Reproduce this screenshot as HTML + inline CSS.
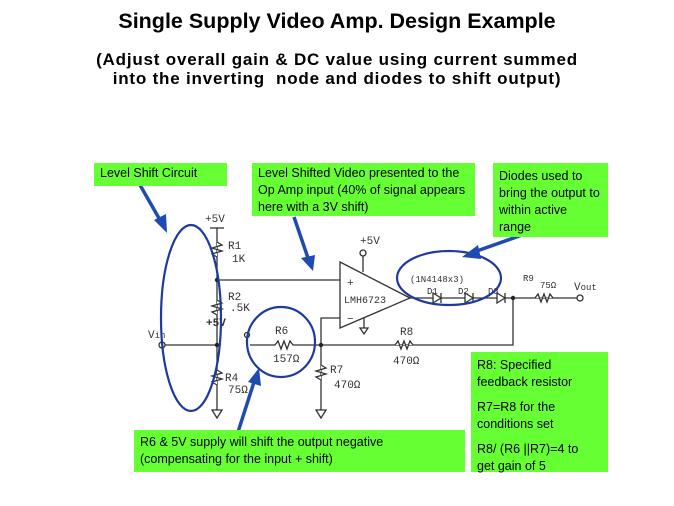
<!DOCTYPE html>
<html><head><style>
body{margin:0;background:#fff;width:674px;height:506px;overflow:hidden;font-family:"Liberation Sans",sans-serif}
.t{position:absolute;left:0;width:674px;text-align:center;font-weight:bold;color:#000}
.g{position:absolute;background:#66ff33;font-size:12.5px;line-height:17px;padding:2px 6px;box-sizing:border-box;color:#000}
</style></head><body>
<div class="t" style="top:9px;font-size:21.5px">Single Supply Video Amp. Design Example</div>
<div class="t" style="top:50px;font-size:17px;line-height:19px;letter-spacing:0.8px">(Adjust overall gain &amp; DC value using current summed<br>into the inverting &nbsp;node and diodes to shift output)</div>
<svg width="674" height="506" style="position:absolute;left:0;top:0" font-family="Liberation Sans, sans-serif">
<g stroke="#333" stroke-width="1.3" fill="none">
<line x1="217" y1="228" x2="217" y2="410"/>
<line x1="210" y1="228" x2="224" y2="228"/>
<polyline points="217,242 222,245 212,248 222,251 212,254 217,257" fill="#fff"/>
<polyline points="217,300 222,303 212,306 222,309 212,312 217,315" fill="#fff"/>
<polyline points="217,370 222,373 212,376 222,379 212,382 217,385" fill="#fff"/>
<polygon points="212,410 222,410 217,418"/>
<line x1="165" y1="345" x2="217" y2="345"/>
<circle cx="162" cy="345" r="3"/>
<line x1="217" y1="280" x2="340" y2="280"/>
<circle cx="247" cy="335" r="2.5"/>
<polyline points="250,345 275,345 278,341 281,349 284,341 287,349 290,341 293,345 513,345 513,298"/>
<polygon points="340,262 340,328 410,298"/>
<line x1="363" y1="256" x2="363" y2="272"/><circle cx="363" cy="253" r="3"/>
<line x1="364" y1="318" x2="364" y2="328"/><polygon points="360,328 368,328 364,334"/>
<polyline points="340,318 321,318 321,410"/>
<polyline points="321,365 326,368 316,371 326,374 316,377 321,380" fill="#fff"/>
<polygon points="316,410 326,410 321,418"/>
<polyline points="395,345 398,341 401,349 404,341 407,349 410,341 413,345" fill="#fff"/>
<line x1="410" y1="298" x2="577" y2="298"/>
<polyline points="535,298 538,294 541,302 544,294 547,302 550,294 553,298" fill="#fff"/>
<circle cx="580" cy="298" r="3" fill="#fff"/>
<polygon points="433,293 433,303 441,298" fill="#fff"/><line x1="441" y1="293" x2="441" y2="303"/>
<polygon points="465,293 465,303 473,298" fill="#fff"/><line x1="473" y1="293" x2="473" y2="303"/>
<polygon points="497,293 497,303 505,298" fill="#fff"/><line x1="505" y1="293" x2="505" y2="303"/>
</g>
<circle cx="217" cy="280" r="2.2" fill="#222"/><circle cx="217" cy="345" r="2.2" fill="#222"/>
<circle cx="321" cy="345" r="2.2" fill="#222"/><circle cx="513" cy="298" r="2.2" fill="#222"/>
<g font-size="11" fill="#333" font-family="Liberation Mono, monospace">
<text x="205" y="222">+5V</text><text x="228" y="249">R1</text><text x="232" y="262">1K</text>
<text x="228" y="300">R2</text><text x="230" y="311">.5K</text><text x="206" y="326" font-weight="bold">+5V</text>
<text x="148" y="338">V<tspan font-size="9">in</tspan></text>
<text x="225" y="381">R4</text><text x="228" y="393">75Ω</text>
<text x="275" y="334">R6</text><text x="273" y="362">157Ω</text>
<text x="330" y="373">R7</text><text x="334" y="388">470Ω</text>
<text x="400" y="335">R8</text><text x="393" y="364">470Ω</text>
<text x="360" y="244">+5V</text><text x="347" y="286">+</text><text x="347" y="322">−</text>
<text x="344" y="303" font-size="10">LMH6723</text>
<text x="410" y="282" font-size="9">(1N4148x3)</text>
<text x="427" y="294" font-size="9">D1</text><text x="458" y="294" font-size="9">D2</text><text x="488" y="294" font-size="9">D3</text>
<text x="523" y="281" font-size="9">R9</text><text x="540" y="288" font-size="9">75Ω</text>
<text x="574" y="290">V<tspan font-size="9">out</tspan></text>
</g>
<g stroke="#1f3a9e" stroke-width="2.2" fill="none">
<ellipse cx="191" cy="318" rx="30" ry="93"/>
<ellipse cx="281" cy="342" rx="34" ry="35"/>
<ellipse cx="449" cy="278" rx="52" ry="27"/>
</g>
<g stroke="#1f4ab0" stroke-width="3.5" fill="#1f4ab0">
<line x1="140" y1="185" x2="160" y2="220"/><polygon points="154,220 167,233 166,214" stroke="none"/>
<line x1="294" y1="217" x2="308" y2="258"/><polygon points="301,258 313,271 315,255" stroke="none"/>
<line x1="522" y1="235" x2="474" y2="252"/><polygon points="478,245 462,257 481,259" stroke="none"/>
<line x1="238" y1="432" x2="254" y2="382"/><polygon points="248,382 259,368 261,386" stroke="none"/>
</g>
</svg>
<div class="g" style="left:94px;top:163px;width:133px;height:23px">Level Shift Circuit</div>
<div class="g" style="left:252px;top:163px;width:223px;height:53px">Level Shifted Video presented to the Op Amp input (40% of signal appears here with a 3V shift)</div>
<div class="g" style="left:493px;top:163px;width:115px;height:74px;padding-top:5px">Diodes used to bring the output to within active range</div>
<div class="g" style="left:471px;top:352px;width:137px;height:120px;padding-top:5px">R8: Specified<br>feedback resistor<div style="height:8px"></div>R7=R8 for the<br>conditions set<div style="height:8px"></div>R8/ (R6 ||R7)=4 to<br>get gain of 5</div>
<div class="g" style="left:134px;top:430px;width:331px;height:42px;padding-top:4px">R6 &amp; 5V supply will shift the output negative<br>(compensating for the input + shift)</div>
</body></html>
